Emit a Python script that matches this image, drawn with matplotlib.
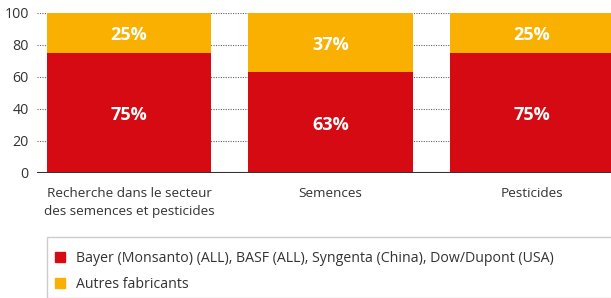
import matplotlib.pyplot as plt
from matplotlib.patches import Rectangle, Patch

categories = ["Recherche dans le secteur\ndes semences et pesticides", "Semences", "Pesticides"]
big_four = [75, 63, 75]
others = [25, 37, 25]
legend_labels = ["Bayer (Monsanto) (ALL), BASF (ALL), Syngenta (China), Dow/Dupont (USA)",
                 "Autres fabricants"]

red = "#D50A12"
orange = "#F9B000"
plt.rcParams['font.family'] = ['Open Sans', 'DejaVu Sans']

fig = plt.figure(figsize=(6.11, 2.98), dpi=100)
ax = fig.add_axes([37/611, 1 - 173/298, 1 - 37/611, 160/298])

x = list(range(len(categories)))
ax.bar(x, big_four, width=0.814, color=red, zorder=2)
ax.bar(x, others, width=0.814, bottom=big_four, color=orange, zorder=2)

# labels sit a touch below the middle of each segment
for i in x:
    ax.text(i, big_four[i] / 2 - 1.3, f"{big_four[i]}%", ha="center", va="center",
            color="white", fontsize=13, fontweight="bold", zorder=3)
    ax.text(i, big_four[i] + others[i] / 2 - 1.3, f"{others[i]}%", ha="center", va="center",
            color="white", fontsize=13, fontweight="bold", zorder=3)

ax.set_xlim(-0.4566, 2.392)
ax.set_ylim(0, 100)
ax.set_yticks(range(0, 101, 20))
for v in range(20, 101, 20):
    ax.axhline(v, color="#666666", lw=0.8, ls=(0, (1, 1.2)), zorder=1)
ax.axhline(0, color="#333333", lw=1.5, zorder=3)

ax.set_xticks(x)
ax.set_xticklabels(categories, fontsize=9.7, color="#333333", linespacing=1.55)
ax.tick_params(axis="both", length=0, colors="#333333")
ax.tick_params(axis="x", pad=10)
ax.tick_params(axis="y", pad=6, labelsize=10.3)
for s in ax.spines.values():
    s.set_visible(False)

# legend box
fig.patches.append(Rectangle((47/611, 0), 1, (298 - 237)/298, transform=fig.transFigure,
                             fill=False, edgecolor="#cccccc", lw=1))
handles = [Patch(color=red), Patch(color=orange)]
fig.legend(handles, legend_labels, loc="upper left", bbox_to_anchor=(42/611, 1 - 238/298),
           frameon=False, fontsize=10.2, handlelength=0.75, handleheight=0.75,
           labelspacing=0.8, handletextpad=0.75, labelcolor="#333333")

fig.savefig("out.png", dpi=100)
